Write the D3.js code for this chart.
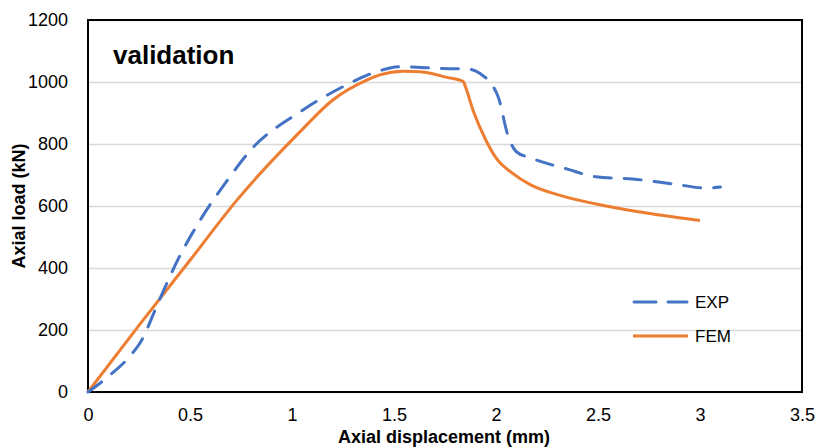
<!DOCTYPE html>
<html>
<head>
<meta charset="utf-8">
<script src="https://cdn.jsdelivr.net/npm/d3@7"></script>
<style>
  body { margin: 0; background: #fff; }
  text { font-family: "Liberation Sans", Arial, sans-serif; }
</style>
</head>
<body>
<div id="chart"></div>
<script>
// values
const expDisp = [0, 0.09, 0.21, 0.255, 0.35, 0.44, 0.56, 0.68, 0.79, 1.04, 1.25, 1.415, 1.53, 1.725, 1.87, 1.92, 2.01, 2.06, 2.1, 2.17, 2.35, 2.49, 2.67, 2.87, 3.03, 3.1];
const expLoad = [0, 45, 119, 158, 297, 426, 565, 680, 775, 904, 985, 1033, 1049, 1044, 1041, 1028, 953, 824, 775, 755, 719, 694, 687, 671, 658, 661];

const femDisp = [0, 0.25, 0.5, 0.73, 1.04, 1.2, 1.366, 1.43, 1.545, 1.63, 1.76, 1.84, 1.85, 1.89, 1.95, 2.0, 2.08, 2.17, 2.31, 2.54, 2.77, 3.0];
const femLoad = [0, 215, 425, 619, 840, 942, 1006, 1023, 1035, 1033, 1015, 1001, 985, 904, 813, 755, 706, 668, 635, 600, 574, 553];

const xTicks = [0, 0.5, 1, 1.5, 2, 2.5, 3, 3.5];
const yTicks = [0, 200, 400, 600, 800, 1000, 1200];

const W = 818, H = 448;
const margin = {top: 20, right: 16, bottom: 56, left: 88};
const width = W - margin.left - margin.right,
      height = H - margin.top - margin.bottom;

const svg = d3.select("#chart")
  .append("svg")
    .attr("width", W)
    .attr("height", H)
  .append("g")
    .attr("transform", `translate(${margin.left},${margin.top})`);

const x = d3.scaleLinear().domain([0, 3.5]).range([0, width]);
const y = d3.scaleLinear().domain([0, 1200]).range([height, 0]);

// gridlines
svg.append("g")
  .call(d3.axisLeft(y).tickValues(yTicks).tickSize(-width).tickFormat(""))
  .call(g => g.select(".domain").remove())
  .selectAll("line")
    .attr("stroke", "#d9d9d9")
    .attr("stroke-width", 1.5);

// tick labels
svg.append("g")
  .attr("transform", `translate(0,${height})`)
  .call(d3.axisBottom(x).tickValues(xTicks).tickSize(0).tickPadding(16).tickFormat(d3.format("")))
  .call(g => g.select(".domain").remove())
  .selectAll("text")
    .attr("font-size", 18)
    .attr("fill", "#000")
    .style("font-family", "Liberation Sans, Arial, sans-serif");

svg.append("g")
  .call(d3.axisLeft(y).tickValues(yTicks).tickSize(0).tickPadding(20).tickFormat(d3.format("")))
  .call(g => g.select(".domain").remove())
  .selectAll("text")
    .attr("font-size", 18)
    .attr("fill", "#000")
    .style("font-family", "Liberation Sans, Arial, sans-serif");

// plot frame
svg.append("rect")
  .attr("width", width)
  .attr("height", height)
  .attr("fill", "none")
  .attr("stroke", "#000")
  .attr("stroke-width", 2);

const expData = expDisp.map((d, i) => [d, expLoad[i]]);
const femData = femDisp.map((d, i) => [d, femLoad[i]]);

const line = d3.line()
  .x(d => x(d[0]))
  .y(d => y(d[1]))
  .curve(d3.curveMonotoneX);

svg.append("path")
  .datum(femData)
  .attr("fill", "none")
  .attr("stroke", "#ED7D31")
  .attr("stroke-width", 3)
  .attr("stroke-linejoin", "round")
  .attr("d", line);

svg.append("path")
  .datum(expData)
  .attr("fill", "none")
  .attr("stroke", "#4472C4")
  .attr("stroke-width", 3)
  .attr("stroke-linecap", "round")
  .attr("stroke-dasharray", "17,13")
  .attr("d", line);

// title inside plot
svg.append("text")
  .attr("x", 25)
  .attr("y", 44)
  .attr("font-size", 26)
  .attr("font-weight", "bold")
  .text("validation");

// legend
const legend = [
  {name: "EXP", color: "#4472C4", dash: true},
  {name: "FEM", color: "#ED7D31", dash: false}
];
const lg = svg.selectAll(".lg")
  .data(legend)
  .enter().append("g")
    .attr("transform", (d, i) => `translate(545,${282 + i * 34})`);
lg.append("line")
  .attr("x1", d => d.dash ? 1 : 0).attr("x2", d => d.dash ? 54 : 55)
  .attr("stroke", d => d.color)
  .attr("stroke-width", 3)
  .attr("stroke-linecap", d => d.dash ? "round" : "butt")
  .attr("stroke-dasharray", d => d.dash ? "22,12" : null);
lg.append("text")
  .attr("x", 62)
  .attr("y", 6)
  .attr("font-size", 17)
  .text(d => d.name);

// axis titles
svg.append("text")
  .attr("x", width / 2 - 1)
  .attr("y", height + 51)
  .attr("text-anchor", "middle")
  .attr("font-size", 18)
  .attr("font-weight", "bold")
  .text("Axial displacement (mm)");

svg.append("text")
  .attr("transform", `translate(${-63},${height / 2}) rotate(-90)`)
  .attr("text-anchor", "middle")
  .attr("font-size", 18)
  .attr("font-weight", "bold")
  .text("Axial load (kN)");
</script>
</body>
</html>
